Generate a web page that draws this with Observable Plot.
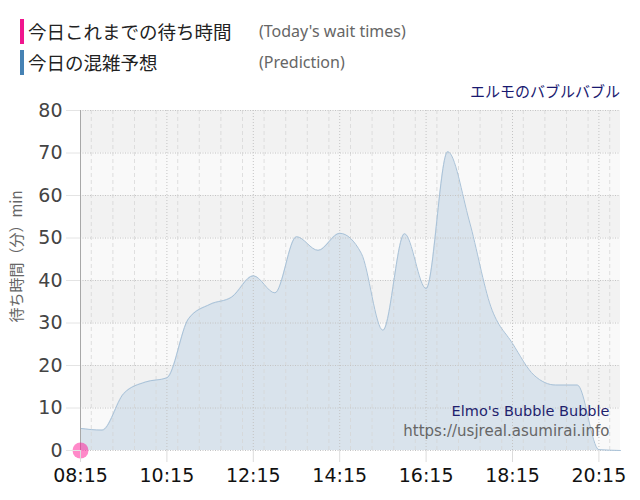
<!DOCTYPE html>
<html><head><meta charset="utf-8">
<script src="https://cdn.jsdelivr.net/npm/d3@7"></script>
<script src="https://cdn.jsdelivr.net/npm/@observablehq/plot@0.6"></script>
<style>
body{margin:0;background:#fff;width:640px;height:500px;overflow:hidden;font-family:"Noto Sans CJK JP",sans-serif;}
#header{position:relative;height:80px;width:640px;}
.bar{position:absolute;left:20px;width:4px;height:25px;}
.jp{position:absolute;left:28px;font-size:18.5px;color:#222;line-height:25px;white-space:nowrap;}
.en{position:absolute;left:259px;font-size:16px;color:#666;line-height:25px;font-family:"Noto Sans",sans-serif;white-space:nowrap;}
#attr{position:absolute;right:20px;top:79px;font-size:15px;color:#191970;line-height:24px;white-space:nowrap;}
#chart svg{display:block;}
</style>
</head><body>
<div id="header">
  <div class="bar" style="top:19px;background:#f0168e"></div>
  <div class="jp" style="top:19px">今日これまでの待ち時間</div>
  <div class="en" style="top:19px">(Today's wait times)</div>
  <div class="bar" style="top:50px;background:#4682b4"></div>
  <div class="jp" style="top:50px">今日の混雑予想</div>
  <div class="en" style="top:50px">(Prediction)</div>
  <div id="attr">エルモのバブルバブル</div>
</div>
<div id="chart"></div>
<script>
// Prediction series (30-minute steps)
const predTimes = ["08:15","08:45","09:15","09:45","10:15","10:45","11:15","11:45","12:15","12:45","13:15","13:45","14:15","14:45","15:15","15:45","16:15","16:45","17:15","17:45","18:15","18:45","19:15","19:45","20:15","20:45"];
const predValues = [5.2,4.8,13.4,16.1,17.1,31,34.4,36.1,41.1,37.1,50.3,47.1,51.1,46.4,28.3,51,38.1,70.3,54,33.8,25.2,17.7,15.4,15.4,0.2,0];
// Today's actual wait times
const todayTimes = ["08:15"];
const todayValues = [0];
// Axis ticks
const xTickLabels = ["08:15","10:15","12:15","14:15","16:15","18:15","20:15"];
const yTickValues = [0,10,20,30,40,50,60,70,80];
const xDomainLabels = ["08:15","20:45"];
const yLabel = "待ち時間（分）min";
const rideName = "Elmo's Bubble Bubble";
const siteUrl = "https://usjreal.asumirai.info";

const parse = d3.utcParse("%H:%M");
const fmt = d3.utcFormat("%H:%M");
const pred = predTimes.map((t,i)=>({t:parse(t), v:predValues[i]}));
const today = todayTimes.map((t,i)=>({t:parse(t), v:todayValues[i]}));
const xTicks = xTickLabels.map(parse);
const [x0, x1] = xDomainLabels.map(parse);
const halfHours = d3.utcMinute.every(30).range(x0, new Date(+x1 + 1));
const minorV = halfHours.filter(d => !xTicks.some(t => +t === +d));
const bands = d3.range(0, 80, 10).map((lo,i)=>({lo, hi:lo+10, dark:i%2===1}));

const chart = Plot.plot({
  width: 640, height: 420,
  marginTop: 30, marginBottom: 50, marginLeft: 80, marginRight: 20,
  style: {fontFamily: "DejaVu Sans, sans-serif", background: "transparent"},
  x: {type: "utc", domain: [x0, x1]},
  y: {domain: [0, 80]},
  marks: [
    Plot.rectY(bands.filter(d=>!d.dark), {y1:"lo", y2:"hi", fill:"#f9f9f9"}),
    Plot.rectY(bands.filter(d=>d.dark), {y1:"lo", y2:"hi", fill:"#f2f2f2"}),
    Plot.areaY(pred, {x:"t", y:"v", curve:"monotone-x", fill:"#d9e3ec"}),
    Plot.ruleX(minorV, {stroke:"#d4d4d4", strokeDasharray:"4,3", strokeOpacity:0.7}),
    Plot.ruleX(xTicks, {stroke:"#c4c4c4", strokeDasharray:"1,2"}),
    Plot.ruleY(yTickValues, {stroke:"#c4c4c4", strokeDasharray:"1,1.5"}),
    Plot.lineY(pred, {x:"t", y:"v", curve:"monotone-x", stroke:"#a9c2d8", strokeWidth:1}),
    Plot.ruleX([x0], {stroke:"#a8a8a8"}),
    Plot.dot(today, {x:"t", y:"v", r:8, fill:"#ff1493", fillOpacity:0.5, stroke:null}),
    Plot.axisX(xTicks, {tickSize:12, tickPadding:5.5, stroke:"#dcdcdc", fill:"#111", fontSize:19, tickFormat:fmt, label:null}),
    Plot.axisY(yTickValues, {tickSize:14, tickPadding:4, stroke:"#e4e4e4", fill:"#444", fontSize:19, label:null}),
    Plot.text([yLabel], {frameAnchor:"left", textAnchor:"middle", rotate:-90, dx:-63.5, dy:-24, fontSize:15, fill:"#666", fontFamily:"Noto Sans CJK JP"}),
    Plot.text([rideName], {frameAnchor:"bottom-right", textAnchor:"end", lineAnchor:"middle", dx:-11, dy:-39.5, fontSize:14.5, fill:"#1f1f6e"}),
    Plot.text([siteUrl], {frameAnchor:"bottom-right", textAnchor:"end", lineAnchor:"middle", dx:-11, dy:-19.5, fontSize:15, fill:"#666"})
  ]
});
document.getElementById("chart").appendChild(chart);
</script>
</body></html>
